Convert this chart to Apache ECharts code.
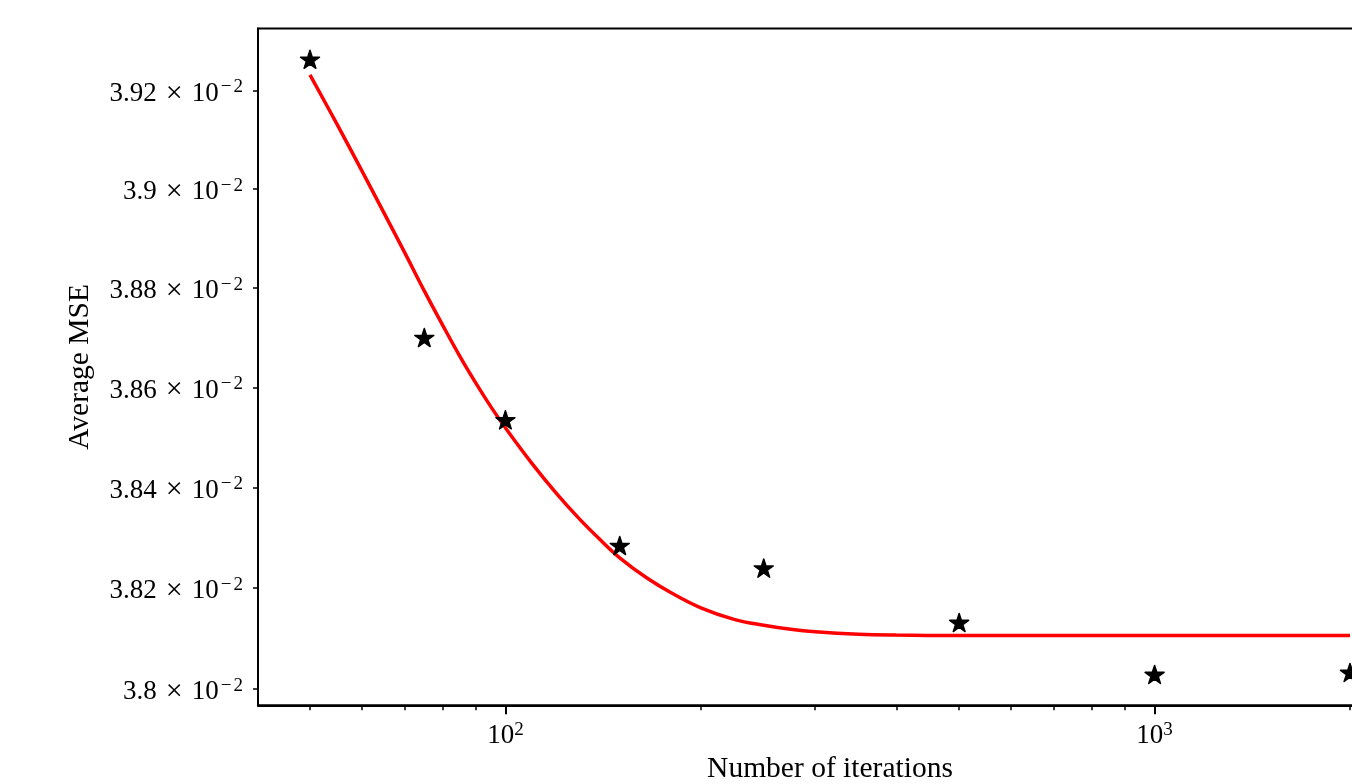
<!DOCTYPE html>
<html><head><meta charset="utf-8">
<script src="https://cdn.jsdelivr.net/npm/echarts@6/dist/echarts.min.js"></script>
<style>html,body{margin:0;padding:0;background:#fff}#c{width:1352px;height:784px}</style>
</head><body><div id="c"></div>
<script>
// measured points (stars)
const iterations = [50, 75, 100, 150, 250, 500, 1000, 2000];
const avgMSE = [0.0392640, 0.0387004, 0.0385353, 0.0382845, 0.0382396, 0.0381317, 0.0380289, 0.0380328];
// fitted curve (red)
const fitIterations = [50, 55, 60, 65, 70, 75, 80, 85, 90, 95, 100, 110, 120, 130, 140, 150, 165, 180, 200, 225, 250, 275, 300, 350, 400, 500, 700, 1000, 1500, 2000];
const fitMSE = [0.0392320, 0.0391323, 0.0390389, 0.0389518, 0.0388710, 0.0387943, 0.0387259, 0.0386636, 0.0386094, 0.0385613,
  0.0385193, 0.0384473, 0.0383875, 0.0383376, 0.0382959, 0.0382601, 0.0382203, 0.0381906, 0.0381608, 0.0381380,
  0.0381261, 0.0381182, 0.0381133, 0.0381084, 0.0381068, 0.0381060, 0.0381060, 0.0381060, 0.0381060, 0.0381060];
// ticks
const yTickValues = [0.038, 0.0382, 0.0384, 0.0386, 0.0388, 0.039, 0.0392];
const yTickMantissa = ['3.8', '3.82', '3.84', '3.86', '3.88', '3.9', '3.92'];
const yTickExponent = '2';
const xMajorTicks = [100, 1000];
const xMajorExponent = ['2', '3'];
const xMinorTicks = [50, 60, 70, 80, 90, 200, 300, 400, 500, 600, 700, 800, 900, 2000];

const FONT = 'Liberation Serif';
const rich = {
  n: { fontFamily: FONT, fontSize: 27, lineHeight: 32, color: '#000' },
  x: { fontFamily: FONT, fontSize: 30, lineHeight: 32, color: '#000', padding: [0, 9, 0, 9] },
  m: { fontFamily: FONT, fontSize: 19, lineHeight: 19, color: '#000', verticalAlign: 'top', padding: [0, 2, 0, 2] },
  s: { fontFamily: FONT, fontSize: 19, lineHeight: 19, color: '#000', verticalAlign: 'top' }
};
const starPath = 'path://M100,0 L122.45,69.1 L195.11,69.1 L136.33,111.8 L158.78,180.9 L100,138.2 L41.22,180.9 L63.67,111.8 L4.89,69.1 L77.55,69.1 Z';

function findIdx(arr, v) {
  for (let i = 0; i < arr.length; i++) if (Math.abs(arr[i] - v) / arr[i] < 1e-6) return i;
  return -1;
}

const chart = echarts.init(document.getElementById('c'), null, { renderer: 'canvas' });
chart.setOption({
  animation: false,
  backgroundColor: '#fff',
  grid: {
    left: 258, top: 28.5, width: 1144, height: 676.8,
    show: true, borderColor: '#000', borderWidth: 2, backgroundColor: 'transparent',
    containLabel: false, outerBoundsMode: 'none'
  },
  xAxis: [{
    type: 'log', logBase: 10, min: 41.58, max: 2405,
    position: 'bottom',
    name: 'Number of iterations', nameLocation: 'middle', nameGap: 48,
    nameTextStyle: { fontFamily: FONT, fontSize: 29.5, color: '#000' },
    axisLine: { show: true, onZero: false, lineStyle: { color: '#000', width: 2 } },
    axisTick: { show: true, customValues: xMajorTicks, length: 9, lineStyle: { color: '#000', width: 2 } },
    axisLabel: {
      customValues: xMajorTicks, margin: 15, rich: rich,
      formatter: function (v) { const i = findIdx(xMajorTicks, v); return i < 0 ? '' : '{n|10}{s|' + xMajorExponent[i] + '}'; }
    },
    splitLine: { show: false }, minorTick: { show: false }
  }, {
    type: 'log', logBase: 10, min: 41.58, max: 2405,
    position: 'bottom', offset: 0,
    axisLine: { show: false, onZero: false },
    axisTick: { show: true, customValues: xMinorTicks, length: 5, lineStyle: { color: '#000', width: 1.5 } },
    axisLabel: { show: false },
    splitLine: { show: false }
  }],
  yAxis: {
    type: 'log', logBase: 10, min: 0.037968, max: 0.0393268,
    name: 'Average MSE', nameLocation: 'middle', nameGap: 163,
    nameTextStyle: { fontFamily: FONT, fontSize: 29.5, color: '#000' },
    axisLine: { show: true, onZero: false, lineStyle: { color: '#000', width: 2 } },
    axisTick: { show: true, customValues: yTickValues, length: 5, lineStyle: { color: '#000', width: 1.5 } },
    axisLabel: {
      customValues: yTickValues, margin: 15, rich: rich, padding: [6, 0, 0, 0],
      formatter: function (v) {
        const i = findIdx(yTickValues, v);
        return i < 0 ? '' : '{n|' + yTickMantissa[i] + '}{x|×}{n|10}{m|−}{s|' + yTickExponent + '}';
      }
    },
    splitLine: { show: false }
  },
  series: [{
    type: 'line', xAxisIndex: 0, yAxisIndex: 0,
    data: fitIterations.map((x, i) => [x, fitMSE[i]]),
    showSymbol: false, smooth: 0.4,
    lineStyle: { color: '#ff0000', width: 3.5 },
    z: 2
  }, {
    type: 'scatter', xAxisIndex: 0, yAxisIndex: 0,
    data: iterations.map((x, i) => [x, avgMSE[i]]),
    symbol: starPath, symbolSize: 19, symbolKeepAspect: true,
    itemStyle: { color: '#000', borderColor: '#000', borderWidth: 1.5, borderJoin: 'round', opacity: 1 },
    z: 3
  }]
});
</script></body></html>
